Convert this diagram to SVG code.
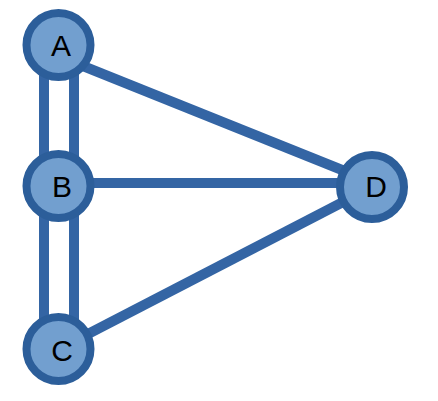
<svg xmlns="http://www.w3.org/2000/svg" width="438" height="401" viewBox="0 0 438 401">
<style>
.e{stroke:#3465a4;stroke-width:10;fill:none}
.n circle{fill:#729fcf;stroke:#2c5e9a;stroke-width:8}
.n text{font-family:"Liberation Sans",Arial,sans-serif;font-size:30px;text-anchor:middle;fill:#000}
</style>
<rect width="438" height="401" fill="#fff"/>
<g id="edges">
<line class="e" x1="44" y1="45" x2="44" y2="185"/>
<line class="e" x1="74" y1="45" x2="74" y2="185"/>
<line class="e" x1="44" y1="185" x2="44" y2="349"/>
<line class="e" x1="74" y1="185" x2="74" y2="349"/>
<line class="e" x1="58" y1="56" x2="372" y2="182"/>
<line class="e" x1="59" y1="183" x2="372" y2="183"/>
<line class="e" x1="59" y1="349" x2="372" y2="187"/>
</g>
<g id="A" class="n"><circle cx="58.5" cy="45" r="32"/><text x="61" y="56">A</text></g>
<g id="B" class="n"><circle cx="58.5" cy="186" r="32"/><text x="62" y="197">B</text></g>
<g id="C" class="n"><circle cx="58.5" cy="349" r="32"/><text x="62" y="361">C</text></g>
<g id="D" class="n"><circle cx="372" cy="187" r="32"/><text x="376" y="197">D</text></g>
</svg>
